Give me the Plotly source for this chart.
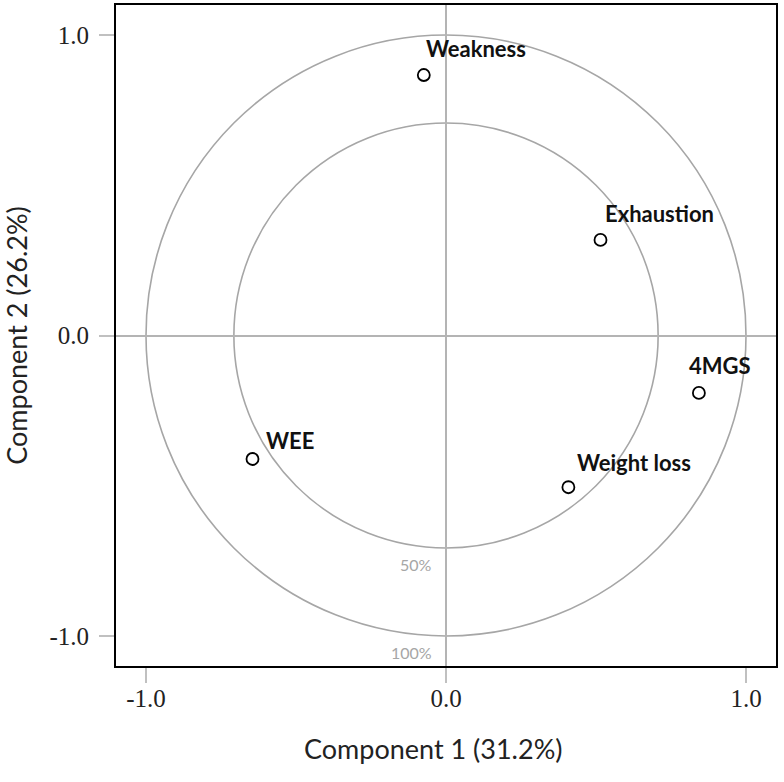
import plotly.graph_objects as go

variables = ["Weakness", "Exhaustion", "4MGS", "Weight loss", "WEE"]
comp1 = [-0.074, 0.515, 0.843, 0.408, -0.645]
comp2 = [0.867, 0.318, -0.191, -0.505, -0.411]
circle_radii = [0.7071, 1.0]
circle_labels = ["50%", "100%"]
tick_vals = [-1.0, 0.0, 1.0]
tick_text = ["-1.0", "0.0", "1.0"]

label_shift = {
    "Weakness": (0, 27),
    "Exhaustion": (2, 26),
    "4MGS": (-12, 27),
    "Weight loss": (7, 25),
    "WEE": (11, 18),
}

fig = go.Figure()

fig.add_trace(go.Scatter(
    x=comp1, y=comp2, mode="markers",
    marker=dict(symbol="circle-open", size=12, color="black", line=dict(width=1.8)),
    showlegend=False, hoverinfo="text", text=variables,
))

shapes = []
for r in circle_radii:
    shapes.append(dict(type="circle", xref="x", yref="y", x0=-r, y0=-r, x1=r, y1=r,
                       line=dict(color="#a6a6a6", width=1.6), layer="below"))
fig.update_layout(shapes=shapes)

annotations = []
for name, x, y in zip(variables, comp1, comp2):
    dx, dy = label_shift[name]
    annotations.append(dict(x=x, y=y, xref="x", yref="y", text=f"<b>{name}</b>",
                            showarrow=False, xanchor="left", yanchor="middle",
                            xshift=dx, yshift=dy,
                            font=dict(family="Lato", size=22, color="#111111")))
for r, lab in zip(circle_radii, circle_labels):
    annotations.append(dict(x=0, y=-r, xref="x", yref="y", text=lab, showarrow=False,
                            xanchor="right", yanchor="top", xshift=-12, yshift=-5,
                            font=dict(family="Lato", size=16, color="#a6a6a6")))
annotations.append(dict(x=0.481, y=0, xref="paper", yref="paper", text="Component 1 (31.2%)",
                        showarrow=False, xanchor="center", yanchor="middle", yshift=-82,
                        font=dict(family="Lato", size=27, color="#222222")))
fig.update_layout(annotations=annotations)

axis_common = dict(
    range=[-1.1, 1.1], tickvals=tick_vals, ticktext=tick_text,
    showgrid=False, zeroline=True, zerolinecolor="#b4b4b4", zerolinewidth=1.6,
    ticks="outside", ticklen=15, tickwidth=1.5, tickcolor="#c0c0c0",
    showline=True, linecolor="black", linewidth=2, mirror=True,
    tickfont=dict(family="Liberation Serif", size=25, color="#222222"),
    automargin=False,
)

fig.update_xaxes(**axis_common, ticklabelstandoff=-6)
fig.update_yaxes(**axis_common, ticklabelstandoff=5,
                 title=dict(text="Component 2 (26.2%)", standoff=22,
                            font=dict(family="Lato", size=27, color="#222222")))

fig.update_layout(
    width=784, height=782,
    margin=dict(l=116, r=8, t=5, b=116),
    plot_bgcolor="white", paper_bgcolor="white",
)

fig.write_html("out.html", config={"displayModeBar": False},
               post_script="document.body.style.margin='0';document.body.style.overflow='hidden';")
